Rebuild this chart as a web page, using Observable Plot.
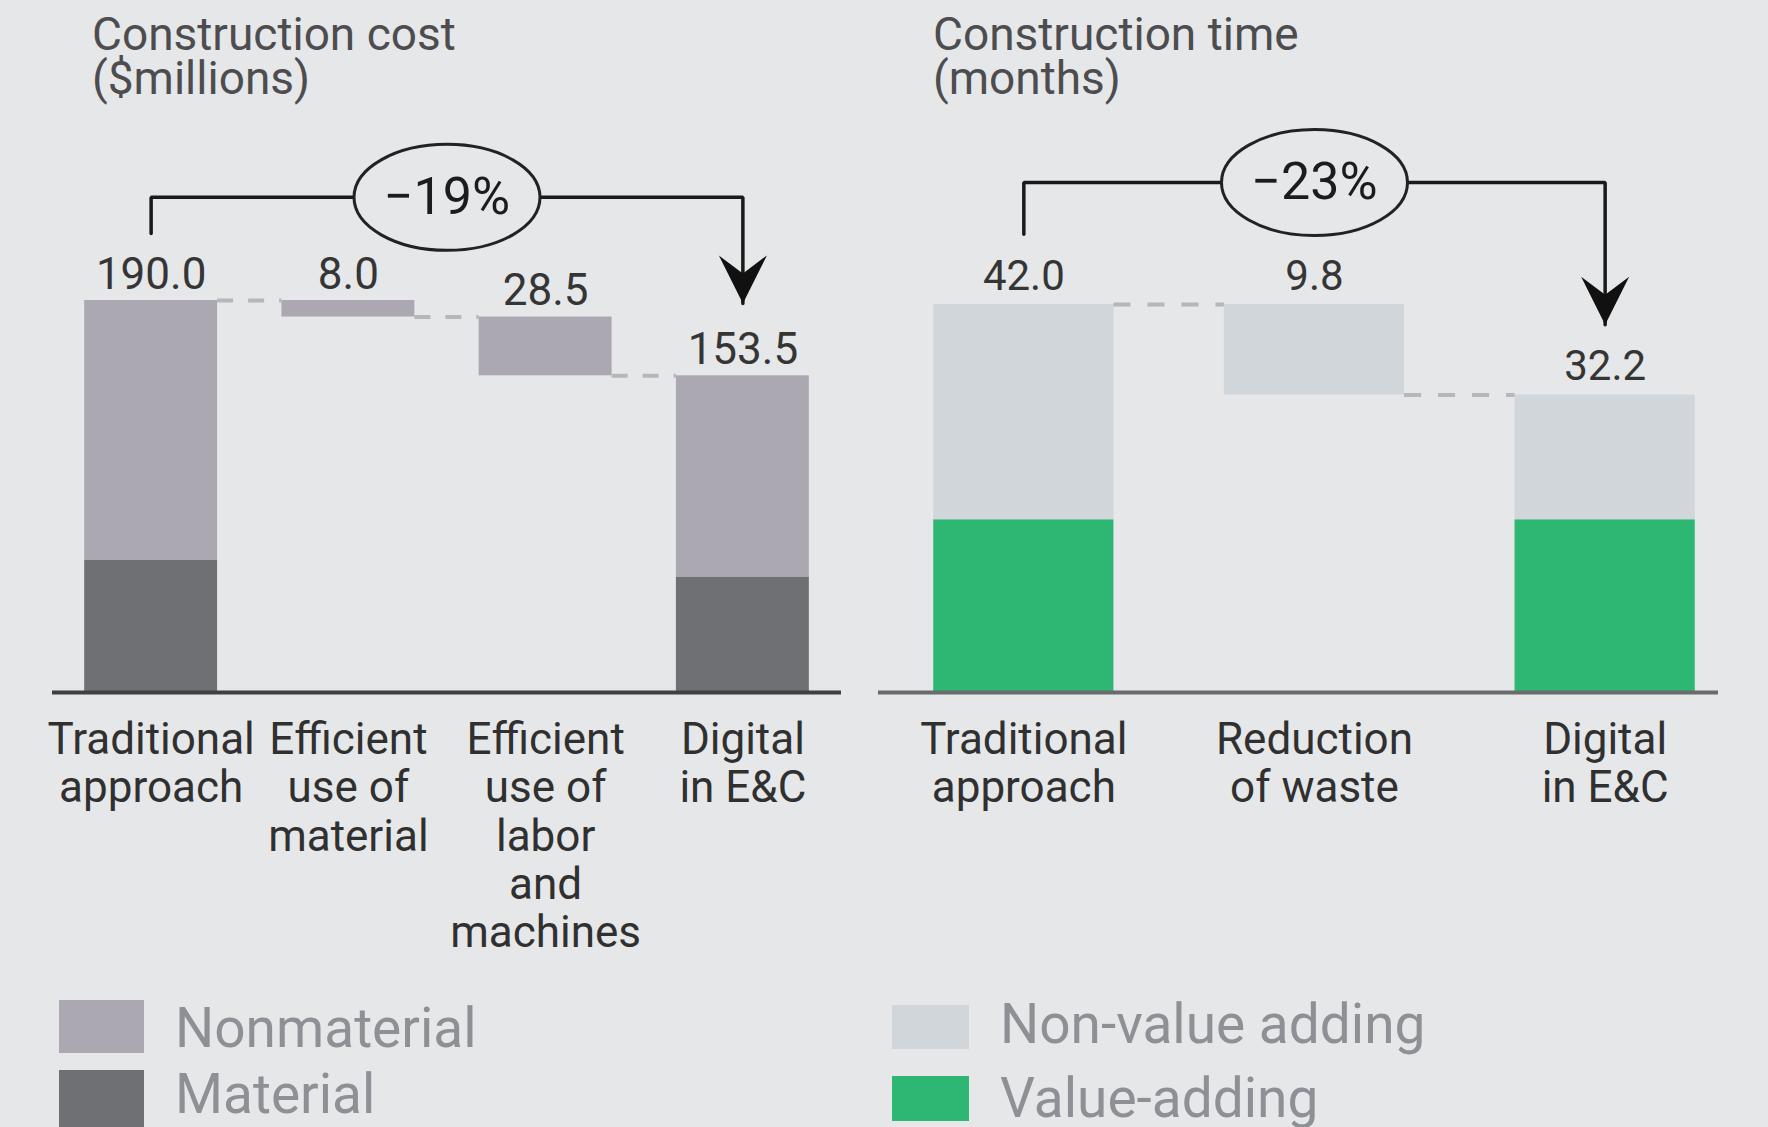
<!DOCTYPE html>
<html><head><meta charset="utf-8">
<script src="https://cdn.jsdelivr.net/npm/d3@7"></script>
<script src="https://cdn.jsdelivr.net/npm/@observablehq/plot@0.6"></script>
<style>
  html,body{margin:0;padding:0;}
  body{background:#e6e7e9;width:1768px;height:1127px;overflow:hidden;position:relative;font-family:Roboto,"Noto Sans",sans-serif;}
  .title{position:absolute;top:12px;font-size:46px;line-height:44px;color:#4d4d4f;white-space:pre;}
  .panel{position:absolute;top:110px;}
  .sw{position:absolute;}
  .lt{position:absolute;font-size:55px;line-height:55px;color:#8d9196;white-space:pre;}
</style>
</head><body>
<div id="root"></div>
<script>
// ---------- data ----------
const costCategories = ["Traditional\napproach", "Efficient\nuse of\nmaterial", "Efficient\nuse of\nlabor\nand\nmachines", "Digital\nin E&C"];
const costTotal      = [190.0, null, null, 153.5];
const costMaterial   = [64.0, null, null, 56.0];
const costReduction  = [null, 8.0, 28.5, null];
const costSeries     = ["Nonmaterial", "Material"];
const costColors     = ["#aba8b2", "#6f7074"];
const costPercent    = "−19%";
const costBracket    = [222.5, 240, 188.6]; // start, level, arrow tip ($M)

const timeCategories  = ["Traditional\napproach", "Reduction\nof waste", "Digital\nin E&C"];
const timeTotal       = [42.0, null, 32.2];
const timeValueAdding = [18.7, null, 18.7];
const timeReduction   = [null, 9.8, null];
const timeSeries      = ["Non-value adding", "Value-adding"];
const timeColors      = ["#d1d6da", "#2eb673"];
const timePercent     = "−23%";
const timeBracket     = [49.6, 55.2, 39.8]; // start, level, arrow tip (months)

const BG = "#e6e7e9";

function waterfall(total, base, reduction, series) {
  const [upper, lower] = series;
  const rects = [], labels = [], connectors = [];
  let level = 0;
  total.forEach((t, i) => {
    if (t != null) {
      rects.push({i, y1: 0, y2: base[i], kind: lower});
      rects.push({i, y1: base[i], y2: t, kind: upper});
      labels.push({i, top: t, value: t});
      level = t;
    } else {
      const d = reduction[i];
      rects.push({i, y1: level - d, y2: level, kind: upper});
      labels.push({i, top: level, value: d});
      level -= d;
    }
    if (i < total.length - 1) connectors.push({i, y: level});
  });
  return {rects, labels, connectors};
}

const ellipseSymbol = (rx, ry) => ({draw(ctx) {
  const k = 0.5523;
  ctx.moveTo(rx, 0);
  ctx.bezierCurveTo(rx, ry * k, rx * k, ry, 0, ry);
  ctx.bezierCurveTo(-rx * k, ry, -rx, ry * k, -rx, 0);
  ctx.bezierCurveTo(-rx, -ry * k, -rx * k, -ry, 0, -ry);
  ctx.bezierCurveTo(rx * k, -ry, rx, -ry * k, rx, 0);
  ctx.closePath();
}});
const arrowHead = {draw(ctx) {
  ctx.moveTo(0, 0);
  ctx.lineTo(-24, -48);
  ctx.lineTo(0, -30);
  ctx.lineTo(24, -48);
  ctx.closePath();
}};

function panel({categories, total, base, reduction, series, colors, percent, bracket,
                width, marginLeft, marginRight, xMax, yMax, half, labelDy, valueSize, axisColor, dash}) {
  const {rects, labels, connectors} = waterfall(total, base, reduction, series);
  const last = categories.length - 1;
  const mid = last / 2;
  const [y0, yl, yt] = bracket;
  const bracketPts = [{x: 0, y: y0}, {x: 0, y: yl}, {x: last, y: yl}, {x: last, y: yt}];
  return Plot.plot({
    width, height: 880, marginTop: 0, marginBottom: 298, marginLeft, marginRight,
    style: {background: "transparent", fontFamily: "Roboto, 'Noto Sans', sans-serif", overflow: "visible"},
    x: {domain: [-0.5, xMax], axis: null},
    y: {domain: [0, yMax], axis: null},
    color: {domain: series, range: colors},
    marks: [
      Plot.rect(rects, {x1: d => d.i - half, x2: d => d.i + half, y1: "y1", y2: "y2", fill: "kind"}),
      Plot.ruleY(connectors, {x1: d => d.i + half, x2: d => d.i + 1 - half, y: "y", stroke: "#b6b6bb", strokeWidth: 4, strokeDasharray: dash}),
      Plot.ruleY([0], {stroke: axisColor, strokeWidth: 4}),
      Plot.text(labels, {x: "i", y: "top", text: d => d.value.toFixed(1), lineAnchor: "bottom", dy: labelDy, fontSize: valueSize, fill: "#353535"}),
      Plot.text(categories.map((s, i) => ({i, s})), {x: "i", y: 0, text: "s", lineAnchor: "top", dy: 27, fontSize: 44, lineHeight: 1.1, fill: "#303030"}),
      Plot.line(bracketPts, {x: "x", y: "y", stroke: "#1a1a1a", strokeWidth: 3.5, strokeLinejoin: "miter", curve: "linear"}),
      Plot.dot([{x: mid, y: yl}], {x: "x", y: "y", r: 10, symbol: ellipseSymbol(93, 53), fill: BG, stroke: "#222", strokeWidth: 3}),
      Plot.text([{x: mid, y: yl, t: percent}], {x: "x", y: "y", text: "t", fontSize: 52, fill: "#1c1c1c", lineAnchor: "middle"}),
      Plot.dot([{x: last, y: yt}], {x: "x", y: "y", r: 10, symbol: arrowHead, fill: "#111", stroke: "none"})
    ]
  });
}

const root = document.getElementById("root");

function addTitle(text, left) {
  const d = document.createElement("div");
  d.className = "title"; d.style.left = left + "px"; d.textContent = text;
  root.appendChild(d);
}
addTitle("Construction cost\n($millions)", 92);
addTitle("Construction time\n(months)", 933);

const left = panel({categories: costCategories, total: costTotal, base: costMaterial, reduction: costReduction,
  series: costSeries, colors: costColors, percent: costPercent, bracket: costBracket,
  width: 870, marginLeft: 52, marginRight: 29, xMax: 3.5, yMax: 282.1, half: 0.337, labelDy: -12, valueSize: 44,
  axisColor: "#404042", dash: "16,15"});
const lw = document.createElement("div"); lw.className = "panel"; lw.style.left = "0px"; lw.appendChild(left); root.appendChild(lw);

const right = panel({categories: timeCategories, total: timeTotal, base: timeValueAdding, reduction: timeReduction,
  series: timeSeries, colors: timeColors, percent: timePercent, bracket: timeBracket,
  width: 898, marginLeft: 8, marginRight: 50, xMax: 2.39, yMax: 63.0, half: 0.31, labelDy: -15, valueSize: 42,
  axisColor: "#6a6b6d", dash: "17,17"});
const rw = document.createElement("div"); rw.className = "panel"; rw.style.left = "870px"; rw.appendChild(right); root.appendChild(rw);

// legends
function legendItem(name, color, sx, sy, sw, sh, tx, ty) {
  const s = document.createElement("div");
  s.className = "sw";
  Object.assign(s.style, {left: sx + "px", top: sy + "px", width: sw + "px", height: sh + "px", background: color});
  root.appendChild(s);
  const t = document.createElement("div");
  t.className = "lt"; t.style.left = tx + "px"; t.style.top = ty + "px"; t.textContent = name;
  root.appendChild(t);
}
legendItem(costSeries[0], costColors[0], 59, 1000, 85, 53, 175, 1001);
legendItem(costSeries[1], costColors[1], 59, 1070, 85, 57, 175, 1067);
legendItem(timeSeries[0], timeColors[0], 892, 1005, 77, 44, 1000, 997);
legendItem(timeSeries[1], timeColors[1], 892, 1076, 77, 45, 1000, 1071);
</script>
</body></html>
